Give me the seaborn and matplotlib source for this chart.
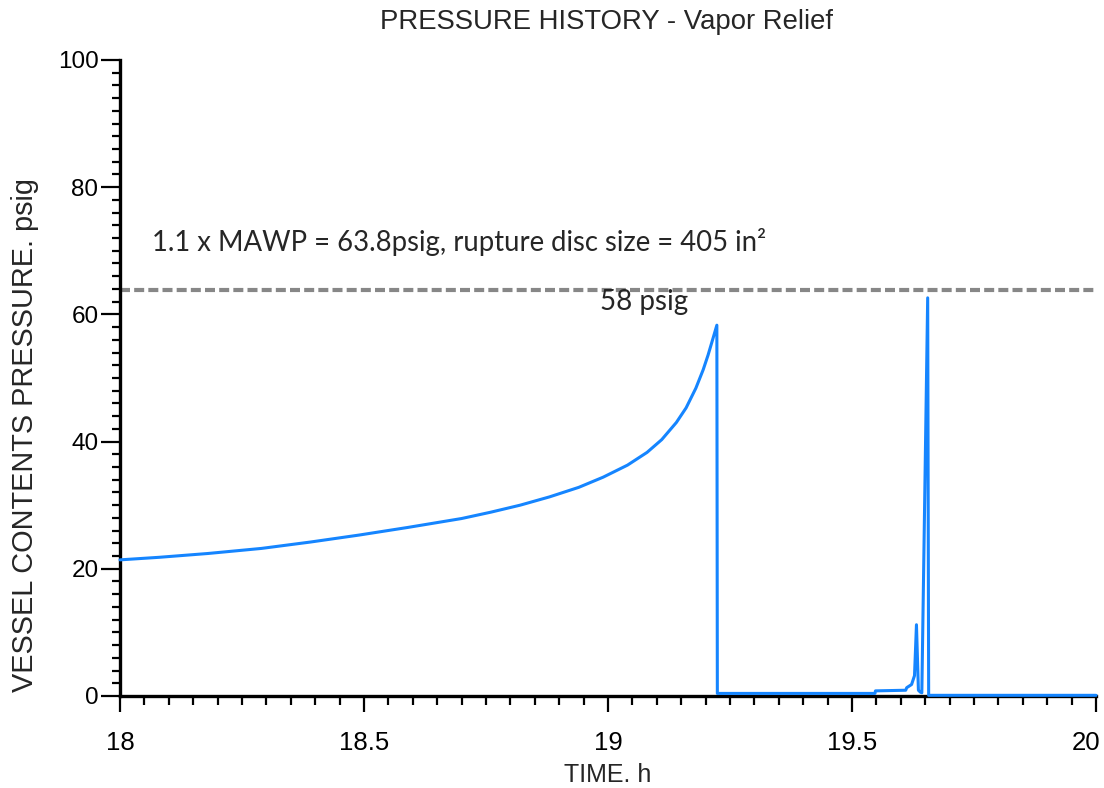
import pandas as pd
import matplotlib.pyplot as plt
import matplotlib.transforms as mtransforms
import seaborn as sns
from matplotlib.ticker import MultipleLocator

# Theme first, fonts after (set_theme resets font.family)
sns.set_theme(style="ticks")
plt.rcParams['font.family'] = ['Liberation Sans', 'DejaVu Sans']

# Vessel pressure history
time_h = [18.00, 18.08, 18.18, 18.29, 18.39, 18.49, 18.59, 18.70, 18.76,
          18.82, 18.88, 18.94, 18.99, 19.04, 19.08, 19.11, 19.14,
          19.16, 19.18, 19.195, 19.205, 19.215, 19.223,
          19.224, 19.547, 19.548, 19.61, 19.612, 19.622,
          19.628, 19.632, 19.636, 19.640, 19.643, 19.655, 19.657, 20.00]
pressure_psig = [21.4, 21.8, 22.4, 23.2, 24.2, 25.3, 26.5, 27.9, 28.9,
                 30.0, 31.3, 32.8, 34.4, 36.3, 38.3, 40.3, 43.0,
                 45.3, 48.4, 51.3, 53.6, 56.2, 58.3,
                 0.4, 0.4, 0.8, 0.9, 1.3, 1.8,
                 3.2, 11.2, 0.9, 0.6, 0.5, 62.6, 0.1, 0.1]

mawp_limit = 63.8
x_ticks = [18, 18.5, 19, 19.5, 20]
x_tick_labels = ['18', '18.5', '19', '19.5', '20']
y_ticks = [0, 20, 40, 60, 80, 100]
y_tick_labels = ['0', '20', '40', '60', '80', '100']

df = pd.DataFrame({'time': time_h, 'pressure': pressure_psig})

fig = plt.figure(figsize=(11.04, 7.88), dpi=100)
ax = fig.add_axes([0.1087, 0.1168, 0.8841, 0.8071])

# 1.1 x MAWP line
ax.axhline(mawp_limit, color='#878787', lw=3, dashes=(2.4, 1.0), zorder=1)

sns.lineplot(data=df, x='time', y='pressure', ax=ax, estimator=None,
             sort=False, color='#1585ff', linewidth=2.2, zorder=4)
for ln in ax.lines[1:]:
    ln.set_clip_on(False)

ax.set_xlim(18, 20)
ax.set_ylim(0, 100)
ax.set_xticks(x_ticks)
ax.set_xticklabels(x_tick_labels)
ax.set_yticks(y_ticks)
ax.set_yticklabels(y_tick_labels)
ax.xaxis.set_minor_locator(MultipleLocator(0.05))
ax.yaxis.set_minor_locator(MultipleLocator(2))

ax.tick_params(axis='x', which='major', length=11.5, width=1.6, pad=14,
               labelsize=18.5, color='black', labelcolor='black')
ax.tick_params(axis='x', which='minor', length=6.5, width=1.6, color='black')
ax.tick_params(axis='y', which='major', length=13.5, width=1.6, pad=2,
               labelsize=17.5, color='black', labelcolor='black')
ax.tick_params(axis='y', which='minor', length=6, width=1.6, color='black')

# last x label sits a little left of its tick, as in the original
last = ax.get_xticklabels()[-1]
last.set_transform(last.get_transform() +
                   mtransforms.ScaledTranslation(-10 / 100, 0, fig.dpi_scale_trans))

sns.despine(ax=ax)
for side in ['left', 'bottom']:
    ax.spines[side].set_linewidth(2.4)
    ax.spines[side].set_color('black')

ax.set_xlabel('')
ax.set_ylabel('')
fig.text(606 / 1104, 1 - 22 / 788, 'PRESSURE HISTORY - Vapor Relief',
         ha='center', va='center', fontsize=19.8)
fig.text(608 / 1104, 1 - 775 / 788, 'TIME. h',
         ha='center', va='center', fontsize=18)
fig.text(25 / 1104, 1 - 435 / 788, 'VESSEL CONTENTS PRESSURE. psig',
         ha='center', va='center', rotation=90, fontsize=20.8)

# annotations
ax.text(18.066, 71.4, '1.1 x MAWP = 63.8psig, rupture disc size = 405 in²',
        family=['Lato', 'DejaVu Sans'], fontsize=19.8, va='center', ha='left')
ax.text(18.983, 62.0, '58 psig', family=['Lato', 'DejaVu Sans'],
        fontsize=20, va='center', ha='left')

fig.savefig('out.png', dpi=100, facecolor='white')
